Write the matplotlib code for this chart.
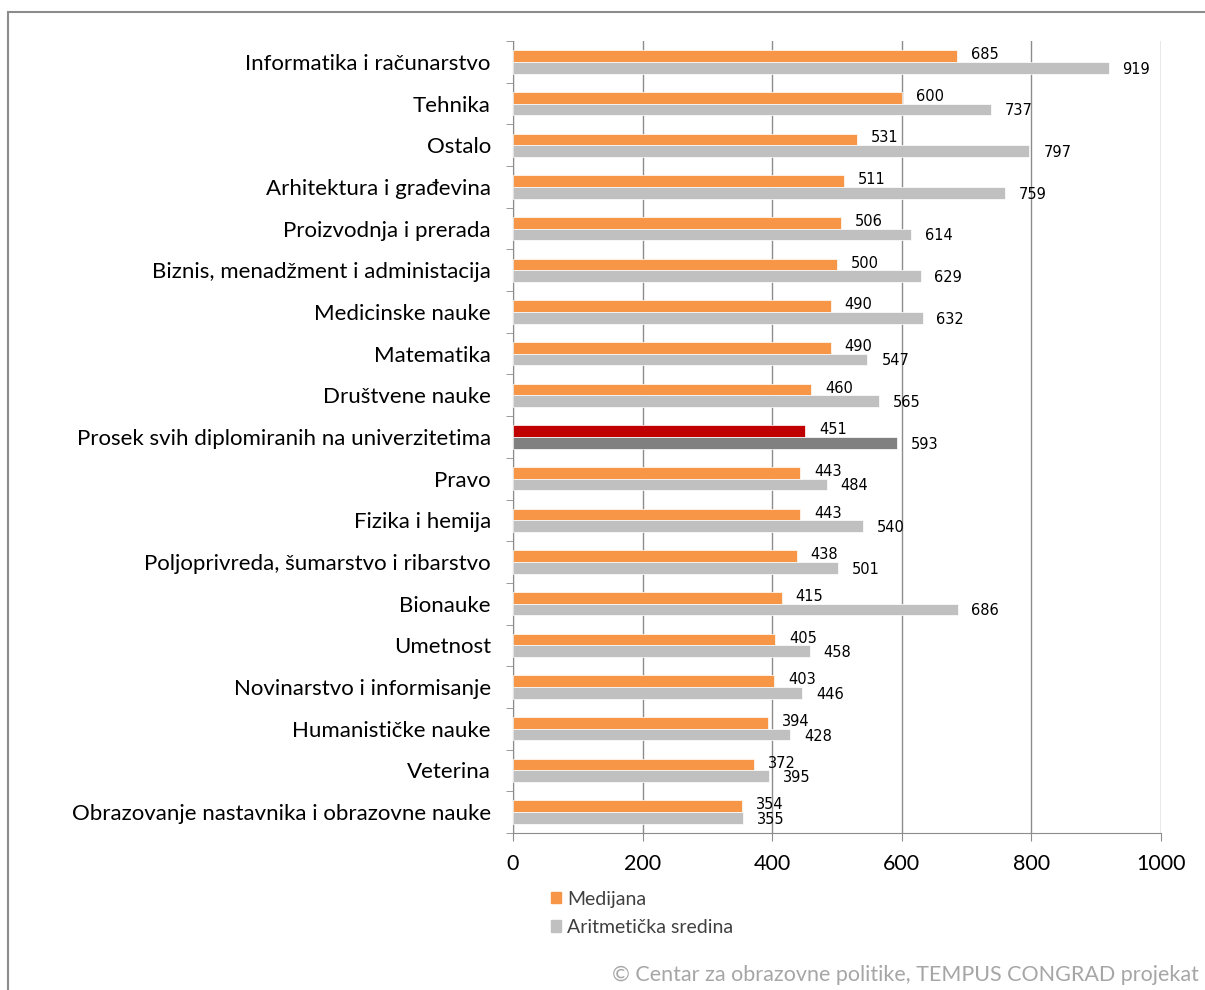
import matplotlib
matplotlib.use("Agg")
import matplotlib.pyplot as plt
from matplotlib.patches import Rectangle, Patch
import numpy as np

categories = [
    "Informatika i računarstvo", "Tehnika", "Ostalo", "Arhitektura i građevina",
    "Proizvodnja i prerada", "Biznis, menadžment i administacija", "Medicinske nauke",
    "Matematika", "Društvene nauke", "Prosek svih diplomiranih na univerzitetima",
    "Pravo", "Fizika i hemija", "Poljoprivreda, šumarstvo i ribarstvo", "Bionauke",
    "Umetnost", "Novinarstvo i informisanje", "Humanističke nauke", "Veterina",
    "Obrazovanje nastavnika i obrazovne nauke",
]
medijana = [685, 600, 531, 511, 506, 500, 490, 490, 460, 451, 443, 443, 438, 415, 405, 403, 394, 372, 354]
aritmeticka = [919, 737, 797, 759, 614, 629, 632, 547, 565, 593, 484, 540, 501, 686, 458, 446, 428, 395, 355]
highlight = "Prosek svih diplomiranih na univerzitetima"
xticks = [0, 200, 400, 600, 800, 1000]

plt.rcParams['font.family'] = ['Lato', 'DejaVu Sans']

fig = plt.figure(figsize=(12.05, 9.9), dpi=100)
fig.patches.append(Rectangle((8/1205, -0.05), 1.1, 1 - 12/990 + 0.05, transform=fig.transFigure,
                             fill=False, edgecolor='#8c8c8c', linewidth=1.5))
ax = fig.add_axes([513/1205, 1 - 833/990, 648/1205, (833 - 41)/990])

n = len(categories)
y = np.arange(n)
h = 0.28
orange, gray = '#F79646', '#C0C0C0'
c_med = ['#C00000' if c == highlight else orange for c in categories]
c_ar = ['#808080' if c == highlight else gray for c in categories]
ax.barh(y - h/2, medijana, height=h, color=c_med, edgecolor='white', linewidth=0.5, label='Medijana', zorder=3)
ax.barh(y + h/2, aritmeticka, height=h, color=c_ar, edgecolor='white', linewidth=0.5, label='Aritmetička sredina', zorder=3)

for i in range(n):
    ax.annotate(str(medijana[i]), (medijana[i], y[i] - h/2), xytext=(10, 1), textcoords='offset points',
                fontsize=10.5, family='DejaVu Sans', va='center', ha='left', zorder=4)
    ax.annotate(str(aritmeticka[i]), (aritmeticka[i], y[i] + h/2), xytext=(10, -1), textcoords='offset points',
                fontsize=10.5, family='DejaVu Sans', va='center', ha='left', zorder=4)

ax.set_ylim(n - 0.5, -0.5)
ax.set_xlim(0, 1000)
ax.set_yticks(y)
ax.set_yticklabels(categories, fontsize=16)
ax.set_yticks(np.arange(-0.5, n, 1), minor=True)
ax.tick_params(axis='y', which='major', length=0, pad=16)
ax.tick_params(axis='y', which='minor', length=5, color='#8c8c8c')
ax.set_xticks(xticks)
ax.set_xticklabels([str(v) for v in xticks], fontsize=15.5)
ax.tick_params(axis='x', length=6, color='#8c8c8c', pad=9)
ax.grid(axis='x', color='#8c8c8c', linewidth=1, zorder=0)
for s in ['top', 'right']:
    ax.spines[s].set_visible(False)
for s in ['left', 'bottom']:
    ax.spines[s].set_color('#8c8c8c')

handles, labels = ax.get_legend_handles_labels()
handles = [Patch(color=orange), Patch(color=gray)]
fig.legend(handles, labels, loc='upper left', bbox_to_anchor=(533/1205, 1 - 873/990), frameon=False,
           fontsize=14, handlelength=0.55, handleheight=0.55, handletextpad=0.3, labelspacing=0.6,
           labelcolor='#404040')

fig.text(1199/1205, 1 - 975/990, "© Centar za obrazovne politike, TEMPUS CONGRAD projekat",
         ha='right', va='center', fontsize=15.5, color='#a6a6a6')

fig.savefig('out.png', dpi=100)
